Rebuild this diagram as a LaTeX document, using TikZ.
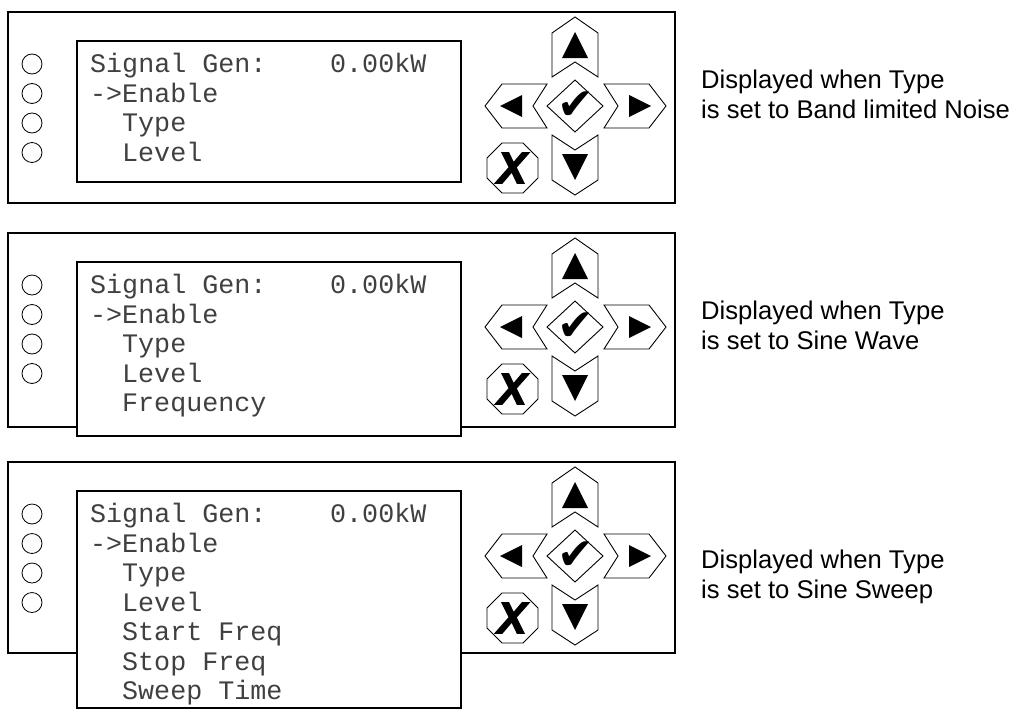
\documentclass[tikz,border=0pt]{standalone}
\usepackage{fontspec}
\setmainfont{Liberation Sans}
\setmonofont{Liberation Mono}
\newfontfamily\simbolos{DejaVu Sans}
\newfontfamily\gruesa[FakeBold=3]{Liberation Sans Bold Italic}

\tikzset{
  marco/.style={line width=2.8pt},
  pantalla/.style={line width=2.8pt, fill=white},
  boton/.style={line width=0.9pt, fill=white, line join=miter},
  led/.style={line width=0.8pt},
  lcd/.style={anchor=base west, inner sep=0pt, text=black!75,
    font=\ttfamily\fontsize{26.7}{30}\selectfont},
  nota/.style={anchor=base west, inner sep=0pt,
    font=\fontsize{25.6}{30}\selectfont},
}

\begin{document}
\begin{tikzpicture}[x=1pt, y=-1pt]
  \useasboundingbox (0,0) rectangle (1027,712);

  % Marcos exteriores
  \draw[marco] (8,12) rectangle (675,203);
  \draw[marco] (8,233) rectangle (675,427);
  \draw[marco] (8,462) rectangle (675,653);

  % Pantallas
  \draw[pantalla] (77,41) rectangle (461,182);
  \draw[pantalla] (77,262) rectangle (461,436);
  \draw[pantalla] (77,491) rectangle (461,708);

  % Leds
  \foreach \t in {41,262,491}
    \foreach \k in {0,...,3}
      \draw[led] (32,\t+23+29.5*\k) circle (10);

  % Botonera
  \foreach \dy [count=\n] in {0,221,450} {
    \begin{scope}[shift={(0,\dy)}]
      \draw[boton] (552,77) -- (552,33) -- (575,17) -- (598,33) -- (598,77) -- (575,62) -- cycle;
      \fill (575,32) -- (588,58) -- (562,58) -- cycle;
      \draw[boton] (552,135) -- (575,150) -- (598,135) -- (598,180) -- (575,195) -- (552,180) -- cycle;
      \fill (575,180) -- (562,154) -- (588,154) -- cycle;
      \draw[boton] (485,106) -- (502,84) -- (547,84) -- (533,106) -- (547,128) -- (502,128) -- cycle;
      \fill (500,106) -- (522,95) -- (522,117) -- cycle;
      \draw[boton] (666,106) -- (649,84) -- (604,84) -- (618,106) -- (604,128) -- (649,128) -- cycle;
      \fill (651,106) -- (629,95) -- (629,117) -- cycle;
      \draw[boton] (547,106) -- (575,80) -- (603,106) -- (575,132) -- cycle;
      \node[inner sep=0pt] (ok\n) at (576,106) {\simbolos\fontsize{44}{44}\selectfont ✔};
      \draw[boton] (487,158) -- (502,143) -- (523,143) -- (538,158) -- (538,178) -- (523,193) -- (502,193) -- (487,178) -- cycle;
      \node[inner sep=0pt] (no\n) at (512,168) {\gruesa\fontsize{44}{44}\selectfont X};
    \end{scope}
  }

  % Textos de la pantalla
  \foreach \s/\c [count=\i] in {{Signal Gen:}/0, ->Enable/0, Type/2, Level/2}
    \node[lcd] (a\i) at (90+16*\c,72.8+29.5*\i-29.5) {\s};
  \node[lcd] (akw) at (330,72.8) {0.00kW};

  \foreach \s/\c [count=\i] in {{Signal Gen:}/0, ->Enable/0, Type/2, Level/2, Frequency/2}
    \node[lcd] (b\i) at (90+16*\c,293.8+29.5*\i-29.5) {\s};
  \node[lcd] (bkw) at (330,293.8) {0.00kW};

  \foreach \s/\c [count=\i] in {{Signal Gen:}/0, ->Enable/0, Type/2, Level/2,
      {Start Freq}/2, {Stop Freq}/2, {Sweep Time}/2}
    \node[lcd] (c\i) at (90+16*\c,522.8+29.5*\i-29.5) {\s};
  \node[lcd] (ckw) at (330,522.8) {0.00kW};

  % Notas
  \node[nota] (na1) at (701,88) {Displayed when Type};
  \node[nota] (na2) at (701,118) {is set to Band limited Noise};
  \node[nota] (nb1) at (701,319) {Displayed when Type};
  \node[nota] (nb2) at (701,349) {is set to Sine Wave};
  \node[nota] (nc1) at (701,568) {Displayed when Type};
  \node[nota] (nc2) at (701,598) {is set to Sine Sweep};
\end{tikzpicture}
\end{document}
